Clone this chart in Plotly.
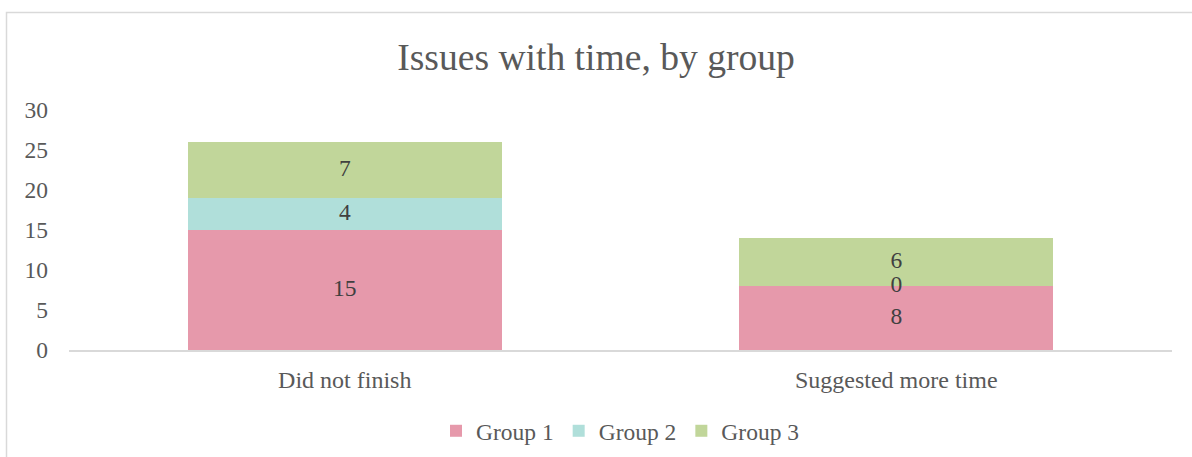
import plotly.graph_objects as go

categories = ["Did not finish", "Suggested more time"]
series_names = ["Group 1", "Group 2", "Group 3"]
group1 = [15, 8]
group2 = [4, 0]
group3 = [7, 6]
colors = ["#E699AB", "#B0DFDA", "#C1D69A"]
y_ticks = [0, 5, 10, 15, 20, 25, 30]

FONT = "Liberation Serif, Times New Roman, serif"
TXT = "#595959"

fig = go.Figure()
series = [group1, group2, group3]
for name, vals, col in zip(series_names, series, colors):
    fig.add_trace(go.Bar(x=categories, y=vals, name=name, marker=dict(color=col, line=dict(width=0))))

# data labels at segment midpoints (computed from data)
lx, ly, lt = [], [], []
for i, c in enumerate(categories):
    base = 0
    for vals in series:
        v = vals[i]
        lx.append(c)
        ly.append(base + v / 2)
        lt.append(str(v))
        base += v
fig.add_trace(go.Scatter(x=lx, y=ly, text=lt, mode="text", showlegend=False,
                         textfont=dict(family=FONT, size=23.5, color="#404040"), hoverinfo="skip"))

L, R, T, B = 69, 20, 110, 107
W, H = 1192, 457
pw, ph = W - L - R, H - T - B

fig.update_layout(
    width=W, height=H,
    barmode="stack", bargap=0.43,
    margin=dict(l=L, r=R, t=T, b=B, autoexpand=False),
    paper_bgcolor="white", plot_bgcolor="white",
    font=dict(family=FONT, color=TXT, size=23.5),
    title=dict(text="Issues with time, by group", x=0.5, xanchor="center",
               y=1 - 57 / H, yanchor="middle", font=dict(family=FONT, size=37.6, color=TXT)),
    legend=dict(orientation="h", x=0.5, xanchor="center", y=(350 - 431) / ph, yanchor="middle",
                font=dict(family=FONT, size=23.5, color=TXT), itemwidth=30, traceorder="normal"),
    showlegend=True,
)
fig.update_xaxes(showgrid=False, showline=True, linecolor="#D9D9D9", linewidth=2, ticks="",
                 automargin=False,
                 tickfont=dict(family=FONT, size=24, color=TXT), ticklabelstandoff=7)
fig.update_yaxes(range=[0, 30], tickvals=y_ticks, showgrid=False, zeroline=False, showline=False,
                 automargin=False,
                 ticks="", tickfont=dict(family=FONT, size=23.5, color=TXT), ticklabelstandoff=20)

# outer chart border
fig.add_shape(type="rect", xref="paper", yref="paper",
              x0=(6.5 - L) / pw, x1=(W + 20 - L) / pw,
              y0=(350 - H - 20) / ph, y1=1 + (T - 12.5) / ph,
              line=dict(color="#D9D9D9", width=1.5), fillcolor="rgba(0,0,0,0)", layer="below")

fig.write_html("out.html", config={"displayModeBar": False},
               post_script="document.body.style.margin='0';document.body.style.overflow='hidden';")
